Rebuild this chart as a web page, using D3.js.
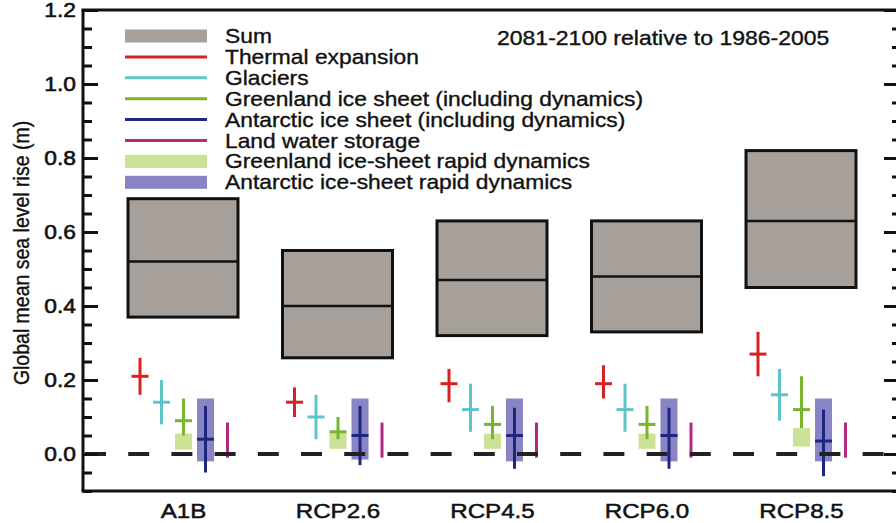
<!DOCTYPE html>
<html><head><meta charset="utf-8">
<script src="https://cdn.jsdelivr.net/npm/d3@7"></script>
<style>
body{margin:0;background:#fff}
svg{display:block}
text{font-family:"Liberation Sans",Arial,Helvetica,sans-serif;fill:#111;stroke:#111;stroke-width:0.35px}
</style>
</head><body>
<svg id="c" width="896" height="523"></svg>
<script>
// ---------------- data ----------------
const scenarios = ["A1B","RCP2.6","RCP4.5","RCP6.0","RCP8.5"];
const sumMed = [0.52,0.40,0.47,0.48,0.63];
const sumLo  = [0.37,0.26,0.32,0.33,0.45];
const sumHi  = [0.69,0.55,0.63,0.63,0.82];
const thermalMed = [0.21,0.14,0.19,0.19,0.27];
const thermalLo  = [0.16,0.10,0.14,0.15,0.21];
const thermalHi  = [0.26,0.18,0.23,0.24,0.33];
const glaciersMed = [0.14,0.10,0.12,0.12,0.16];
const glaciersLo  = [0.08,0.04,0.06,0.06,0.09];
const glaciersHi  = [0.20,0.16,0.19,0.19,0.23];
const greenlandMed = [0.09,0.06,0.08,0.08,0.12];
const greenlandLo  = [0.05,0.04,0.04,0.04,0.07];
const greenlandHi  = [0.15,0.10,0.13,0.13,0.21];
const antarcticMed = [0.04,0.05,0.05,0.05,0.035];
const antarcticLo  = [-0.05,-0.03,-0.04,-0.04,-0.06];
const antarcticHi  = [0.13,0.13,0.125,0.125,0.12];
const landMed = [0.04,0.04,0.04,0.04,0.04];
const landLo  = [-0.01,-0.01,-0.01,-0.01,-0.01];
const landHi  = [0.085,0.085,0.085,0.085,0.085];
const grRapidLo = [0.012,0.014,0.014,0.014,0.02];
const grRapidHi = [0.055,0.057,0.055,0.055,0.07];
const anRapidLo = [-0.02,-0.015,-0.02,-0.02,-0.02];
const anRapidHi = [0.15,0.15,0.15,0.15,0.15];
const yMajorTicks = [0.0,0.2,0.4,0.6,0.8,1.0,1.2];
const legendLabels = ["Sum","Thermal expansion","Glaciers","Greenland ice sheet (including dynamics)",
  "Antarctic ice sheet (including dynamics)","Land water storage","Greenland ice-sheet rapid dynamics",
  "Antarctic ice-sheet rapid dynamics"];
const legendKinds = ["box","line","line","line","line","line","box","box"];
const titleText = "2081-2100 relative to 1986-2005";
const yTitle = "Global mean sea level rise (m)";

// ---------------- styles ----------------
const C = {sum:"#a69f9a", red:"#d82020", cyan:"#5ec4c8", green:"#78b52c", navy:"#1e2680",
           mag:"#b02a80", lgreen:"#cbe196", purple:"#8985c5"};
const legendColors = [C.sum,C.red,C.cyan,C.green,C.navy,C.mag,C.lgreen,C.purple];
const SX = 1.14;

const svg = d3.select("#c");
const L = 83, R = 899, T = 10, B = 491;
const y = d3.scaleLinear().domain([-0.1,1.2]).range([B,T]);
const x = d3.scalePoint().domain(scenarios).range([183,801]);

function stretchText(sel, tx, ty, str, size, anchor, sx){
  return sel.append("text").attr("transform",`translate(${tx},${ty}) scale(${sx||SX},1)`)
    .attr("text-anchor",anchor||"start").attr("dy","0.35em").style("font-size",size+"px").text(str);
}

// ---------------- sum boxes ----------------
const boxW = 110;
const g = svg.append("g");
scenarios.forEach((s,i)=>{
  const cx = x(s);
  g.append("rect").attr("x",cx-boxW/2).attr("y",y(sumHi[i])).attr("width",boxW)
    .attr("height",y(sumLo[i])-y(sumHi[i])).attr("fill",C.sum).attr("stroke","#111").attr("stroke-width",3);
  g.append("line").attr("x1",cx-boxW/2).attr("x2",cx+boxW/2).attr("y1",y(sumMed[i])).attr("y2",y(sumMed[i]))
    .attr("stroke","#111").attr("stroke-width",2.5);
});

// ---------------- rapid dynamics boxes ----------------
scenarios.forEach((s,i)=>{
  const cx = x(s);
  g.append("rect").attr("x",cx+0.5-8.5).attr("y",y(grRapidHi[i])).attr("width",17)
    .attr("height",y(grRapidLo[i])-y(grRapidHi[i])).attr("fill",C.lgreen);
  g.append("rect").attr("x",cx+22.5-8.5).attr("y",y(anRapidHi[i])).attr("width",17)
    .attr("height",y(anRapidLo[i])-y(anRapidHi[i])).attr("fill",C.purple);
});

// ---------------- zero line ----------------
svg.append("line").attr("x1",85).attr("x2",R).attr("y1",y(0)).attr("y2",y(0))
  .attr("stroke","#222").attr("stroke-width",4).attr("stroke-dasharray","21,22.2");

// ---------------- component ranges ----------------
const comps = [
  {med:thermalMed, lo:thermalLo, hi:thermalHi, color:C.red, off:-43, bar:true},
  {med:glaciersMed, lo:glaciersLo, hi:glaciersHi, color:C.cyan, off:-21.5, bar:true},
  {med:greenlandMed, lo:greenlandLo, hi:greenlandHi, color:C.green, off:0.5, bar:true},
  {med:antarcticMed, lo:antarcticLo, hi:antarcticHi, color:C.navy, off:22.5, bar:true},
  {med:landMed, lo:landLo, hi:landHi, color:C.mag, off:44.5, bar:false}
];
comps.forEach(c=>{
  scenarios.forEach((s,i)=>{
    const cx = x(s)+c.off;
    g.append("line").attr("x1",cx).attr("x2",cx).attr("y1",y(c.hi[i])).attr("y2",y(c.lo[i]))
      .attr("stroke",c.color).attr("stroke-width",3);
    if(c.bar) g.append("line").attr("x1",cx-8.5).attr("x2",cx+8.5).attr("y1",y(c.med[i])).attr("y2",y(c.med[i]))
      .attr("stroke",c.color).attr("stroke-width",3);
  });
});

// ---------------- axes ----------------
const minorTicks = d3.range(-0.1,1.2001,0.05).map(v=>+v.toFixed(2)).filter(v=>!yMajorTicks.includes(v));
function styleAxis(a){ a.selectAll("line").attr("stroke","#111").attr("stroke-width",3); a.select(".domain").remove(); }
const yl = svg.append("g").attr("transform",`translate(${L},0)`)
  .call(d3.axisLeft(y).tickValues(yMajorTicks).tickSize(-15).tickPadding(8).tickFormat(d3.format(".1f")));
styleAxis(yl);
yl.selectAll("text").style("font-size","20px").attr("x",null).attr("transform",`translate(-7,0) scale(${SX},1)`)
  .attr("fill","#111").style("stroke","#111").style("stroke-width","0.6px");
const yl2 = svg.append("g").attr("transform",`translate(${L},0)`)
  .call(d3.axisLeft(y).tickValues(minorTicks).tickSize(-9).tickFormat(""));
styleAxis(yl2);
const yr = svg.append("g").attr("transform",`translate(${R},0)`)
  .call(d3.axisRight(y).tickValues(yMajorTicks).tickSize(-15).tickFormat(""));
styleAxis(yr);
const yr2 = svg.append("g").attr("transform",`translate(${R},0)`)
  .call(d3.axisRight(y).tickValues(minorTicks).tickSize(-7).tickFormat(""));
styleAxis(yr2);

// frame
svg.append("line").attr("x1",L).attr("x2",L).attr("y1",T).attr("y2",B).attr("stroke","#111").attr("stroke-width",3);
svg.append("line").attr("x1",L-1.5).attr("x2",R).attr("y1",T).attr("y2",T).attr("stroke","#111").attr("stroke-width",3);
svg.append("line").attr("x1",L-1.5).attr("x2",R).attr("y1",B).attr("y2",B).attr("stroke","#111").attr("stroke-width",3);

// x labels
const xa = svg.append("g").attr("transform",`translate(0,${B})`)
  .call(d3.axisBottom(x).tickSize(0).tickPadding(0));
xa.select(".domain").remove();
xa.selectAll("text").style("font-size","21px").attr("y",null).attr("dy","0.35em")
  .attr("transform",`translate(0,20) scale(1.15,1)`).attr("fill","#111")
  .style("stroke","#111").style("stroke-width","0.5px");

// y title
svg.append("text").attr("transform","translate(21,253) rotate(-90) scale(1,1.12)")
  .attr("text-anchor","middle").attr("dy","0.35em").style("font-size","19.5px").text(yTitle);

// ---------------- legend ----------------
legendLabels.forEach((lab,i)=>{
  const cy = 36 + i*20.9;
  if(legendKinds[i]==="box"){
    svg.append("rect").attr("x",125).attr("y",cy-6.5).attr("width",82).attr("height",13).attr("fill",legendColors[i]);
  } else {
    svg.append("line").attr("x1",125).attr("x2",207).attr("y1",cy).attr("y2",cy)
      .attr("stroke",legendColors[i]).attr("stroke-width",3);
  }
  stretchText(svg,225,cy,lab,20,"start");
});
// title
stretchText(svg,497,38,titleText,20,"start",1.15);
</script>
</body></html>
